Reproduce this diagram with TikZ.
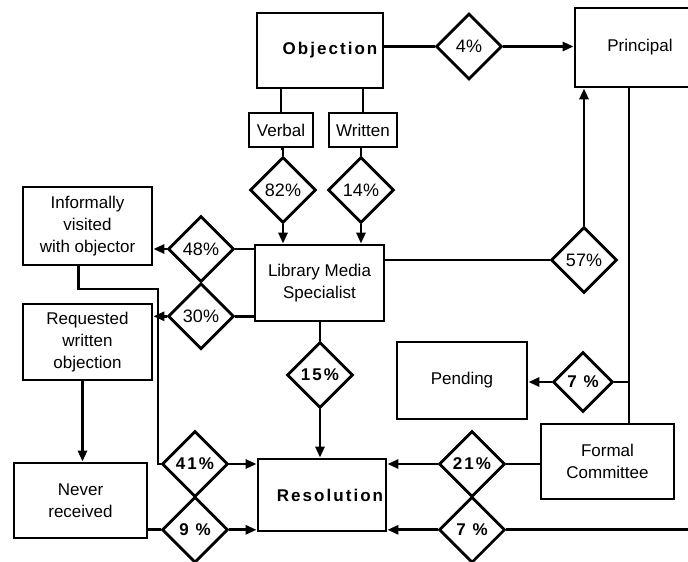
\documentclass[tikz,border=0pt]{standalone}
\usepackage{fontspec}
\setmainfont{Liberation Sans}
\newfontfamily\spacedbf[LetterSpace=12]{Liberation Sans}
\usepackage{tikz}
\usetikzlibrary{shapes.geometric,arrows.meta,positioning}
\newcommand\flowfont{\fontsize{17}{22}\selectfont}
\newcommand\pctfont{\fontsize{18}{22}\selectfont}
\newcommand\heavyfont{\fontsize{17}{22}\selectfont\spacedbf\bfseries}
\tikzset{
  flowbox/.style={rectangle,draw,line width=2.8pt,align=center,
    inner sep=2pt,font=\flowfont},
  pctnode/.style={diamond,draw,line width=2.8pt,minimum width=66pt,
    minimum height=66pt,inner sep=0pt,font=\pctfont},
  pctbold/.style={pctnode,font=\heavyfont},
  flowline/.style={line width=2.7pt},
  flowarrow/.style={flowline,-{Triangle[length=11pt,width=9pt]}},
}

\begin{document}
\begin{tikzpicture}[x=1pt,y=-1pt]
\useasboundingbox (0,0) rectangle (688,562);
\clip (0,0) rectangle (688,562);

% ── Boxes ─────────────────────────────────────────────────────────────────
\node[flowbox,minimum width=126pt,minimum height=75pt] (obj) at (320,50.5)
  {\hspace*{20pt}{\heavyfont Objection}};
\node[flowbox,minimum width=130pt,minimum height=79pt] (prin) at (640,47.5) {Principal};
\node[flowbox,minimum width=64pt,minimum height=34pt] (verbal) at (281,130) {Verbal};
\node[flowbox,minimum width=68pt,minimum height=34pt] (written) at (363,130) {Written};
\node[flowbox,minimum width=129pt,minimum height=78pt] (inf) at (87.5,226)
  {Informally\\visited\\with objector};
\node[flowbox,minimum width=129pt,minimum height=76pt] (lms) at (319.5,283)
  {Library Media\\Specialist};
\node[flowbox,minimum width=129pt,minimum height=76pt] (req) at (87.5,342)
  {Requested\\written\\objection};
\node[flowbox,minimum width=133pt,minimum height=75pt] (nev) at (80.5,500.5)
  {Never\\received};
\node[flowbox,minimum width=128pt,minimum height=72pt] (res) at (322,495)
  {\hspace*{16pt}{\heavyfont Resolution}};
\node[flowbox,minimum width=130pt,minimum height=77pt] (pend) at (462,380.5) {Pending};
\node[flowbox,minimum width=133pt,minimum height=75pt] (fc) at (607.5,461.5)
  {Formal\\Committee};

% ── Percentage diamonds ───────────────────────────────────────────────────
\node[pctnode] (d4)  at (469,46.5) {4\%};
\node[pctnode] (d82) at (283,190) {82\%};
\node[pctnode] (d14) at (361,190) {14\%};
\node[pctnode] (d48) at (201,249) {48\%};
\node[pctnode, below=-1.5pt of d48] (d30) {30\%};
\node[pctnode] (d57) at (584,260) {57\%};
\node[pctbold] (d15) at (320,375) {15\%};
\node[pctbold,minimum width=60pt,minimum height=60pt] (d7p) at (583,382) {7 \%};
\node[pctbold] (d41) at (195,464) {41\%};
\node[pctbold, below=-3pt of d41] (d9) {9 \%};
\node[pctbold] (d21) at (472,464) {21\%};
\node[pctbold, below=-3pt of d21] (d7b) {7 \%};

\coordinate (bend) at (158,289);
\coordinate (vline) at (629,382);

% ── Objection branches ────────────────────────────────────────────────────
\draw[flowline] (obj.east |- d4) -- (d4.west);
\draw[flowarrow] (d4.east) -- (prin.west |- d4);
\draw[flowline] (verbal.north |- obj.south) -- (verbal.north);
\draw[flowline] (written.north |- obj.south) -- (written.north);
\draw[flowline] (verbal.south) -- (verbal.south -| d82) -- (d82.north);
\draw[flowline] (written.south -| d14) -- (d14.north);
\draw[flowarrow] (d82.south) -- (d82.south |- lms.north);
\draw[flowarrow] (d14.south) -- (d14.south |- lms.north);

% ── Library media specialist ──────────────────────────────────────────────
\draw[flowline] (lms.west |- d48) -- (d48.east);
\draw[flowarrow] (d48.west) -- (inf.east |- d48);
\draw[flowline] (lms.west |- d30) -- (d30.east);
\draw[flowarrow] (d30.west) -- (req.east |- d30);
\draw[flowline] (lms.east |- d57) -- (d57.west);
\draw[flowarrow] (d57.north) -- (d57.north |- prin.south);
\draw[flowline] (lms.south -| d15) -- (d15.north);
\draw[flowarrow] (d15.south) -- (d15.south |- res.north);

% ── Left column ───────────────────────────────────────────────────────────
\draw[flowline] ([xshift=-9pt]inf.south) |- (bend) |- (d41.west);
\draw[flowarrow] (d41.east) -- (res.west |- d41);
\draw[flowarrow] ([xshift=-5pt]req.south) -- ([xshift=-5pt]req.south |- nev.north);
\draw[flowline] (nev.east |- d9) -- (d9.west);
\draw[flowarrow] (d9.east) -- (res.west |- d9);

% ── Principal and formal committee ────────────────────────────────────────
\draw[flowline] (vline |- prin.south) -- (vline |- fc.north);
\draw[flowline] (vline) -- (d7p.east);
\draw[flowarrow] (d7p.west) -- (pend.east |- d7p);
\draw[flowline] (fc.west |- d21) -- (d21.east);
\draw[flowarrow] (d21.west) -- (res.east |- d21);
\draw[flowline] (prin.east) -- ++(10,0) |- (d7b.east);
\draw[flowarrow] (d7b.west) -- (res.east |- d7b);

\end{tikzpicture}
\end{document}
